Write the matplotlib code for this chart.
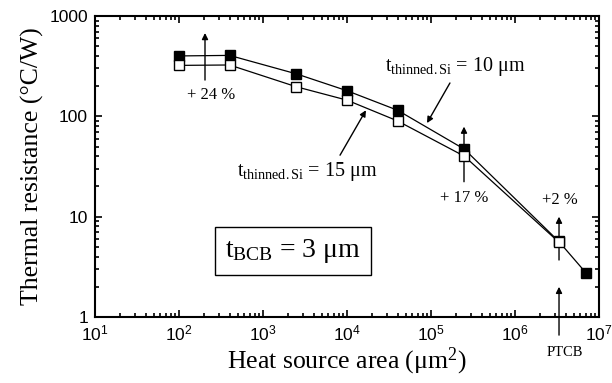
import numpy as np
import matplotlib
matplotlib.use('Agg')
import matplotlib.pyplot as plt
from matplotlib.ticker import FixedLocator, FuncFormatter, LogLocator, NullFormatter

plt.rcParams['font.family'] = ['Liberation Serif', 'DejaVu Serif']
plt.rcParams['mathtext.fontset'] = 'custom'
plt.rcParams['mathtext.rm'] = 'Liberation Serif'
plt.rcParams['mathtext.it'] = 'Liberation Serif:italic'
plt.rcParams['mathtext.default'] = 'regular'

# data
area = [1e2, 4e2, 2.5e3, 1e4, 4e4, 2.5e5, 3.3e6, 7e6]
r_10um = [400, 405, 265, 180, 115, 47, 5.7, 2.75]   # t_thinned.Si = 10 um (filled)
area_15 = [1e2, 4e2, 2.5e3, 1e4, 4e4, 2.5e5, 3.3e6]
r_15um = [322, 325, 197, 145, 90, 40, 5.6]          # t_thinned.Si = 15 um (open)

y_ticks = [1, 10, 100, 1000]
x_ticks = [1e1, 1e2, 1e3, 1e4, 1e5, 1e6, 1e7]

fig = plt.figure(figsize=(6.12, 3.83), dpi=100)
ax = fig.add_axes([0.1552, 0.1723, 0.8236, 0.7859])

ax.plot(area, r_10um, '-', color='black', lw=0.9, marker='s', ms=7.5,
        mfc='black', mec='black', zorder=3)
ax.plot(area_15, r_15um, '-', color='black', lw=0.9, marker='s', ms=7.5,
        mfc='white', mec='black', mew=1.0, zorder=4)

ax.set_xscale('log')
ax.set_yscale('log')
ax.set_xlim(1e1, 1e7)
ax.set_ylim(1, 1000)

ax.xaxis.set_major_locator(FixedLocator(x_ticks))
ax.yaxis.set_major_locator(FixedLocator(y_ticks))
ax.xaxis.set_minor_locator(LogLocator(base=10, subs=np.arange(2, 10)))
ax.yaxis.set_minor_locator(LogLocator(base=10, subs=np.arange(2, 10)))
ax.xaxis.set_minor_formatter(NullFormatter())
ax.yaxis.set_minor_formatter(NullFormatter())
ax.xaxis.set_major_formatter(FuncFormatter(lambda v, p: r'$\mathdefault{10^{%d}}$' % round(np.log10(v))))
ax.yaxis.set_major_formatter(FuncFormatter(lambda v, p: '%d' % v))

ax.tick_params(which='both', direction='in', top=True, right=True, width=1.2)
ax.tick_params(which='major', length=5, labelsize=12.5, pad=5)
ax.tick_params(which='minor', length=3)
for lab in ax.get_xticklabels() + ax.get_yticklabels():
    lab.set_fontfamily('Liberation Sans')
for s in ax.spines.values():
    s.set_linewidth(1.5)

ax.set_xlabel(r'Heat source area ($\mu$m$^{2}$)', fontsize=18.5, labelpad=1)
ax.set_ylabel('Thermal resistance (°C/W)', fontsize=18.5, labelpad=4)

arw = dict(arrowstyle='-|>', color='black', lw=1.0, mutation_scale=9, shrinkA=0, shrinkB=0)

# percentage arrows
ax.annotate('', xy=(204, 677), xytext=(204, 230), arrowprops=arw)
ax.text(240, 163, '+ 24 %', fontsize=12, ha='center', va='center')
ax.annotate('', xy=(2.47e5, 79), xytext=(2.47e5, 22.3), arrowprops=arw)
ax.text(2.5e5, 15.3, '+ 17 %', fontsize=12, ha='center', va='center')
ax.annotate('', xy=(3.34e6, 10), xytext=(3.34e6, 3.7), arrowprops=arw)
ax.text(3.4e6, 14.7, '+2 %', fontsize=12, ha='center', va='center')

# PTCB arrow below axis
ax.annotate('', xy=(3.34e6, 2.0), xytext=(3.34e6, 0.66), arrowprops=arw,
            annotation_clip=False)
ax.text(3.9e6, 0.44, 'PTCB', fontsize=10.5, ha='center', va='center', clip_on=False)

# curve labels
ax.text(2.83e4, 317, r'$\mathrm{t_{thinned{.}Si}}$ = 10 $\mu$m', fontsize=14.5,
        ha='left', va='center')
ax.annotate('', xy=(8.96e4, 85.7), xytext=(1.68e5, 215), arrowprops=arw)
ax.text(490, 28, r'$\mathrm{t_{thinned{.}Si}}$ = 15 $\mu$m', fontsize=14.5,
        ha='left', va='center')
ax.annotate('', xy=(1.68e4, 115), xytext=(8.26e3, 41), arrowprops=arw)

ax.text(2275, 4.54, r'$\mathrm{t_{BCB}}$ = 3 $\mu$m', fontsize=20,
        ha='center', va='center',
        bbox=dict(boxstyle='square,pad=0.35', fc='white', ec='black', lw=1.0))

fig.savefig('out.png', dpi=100)
